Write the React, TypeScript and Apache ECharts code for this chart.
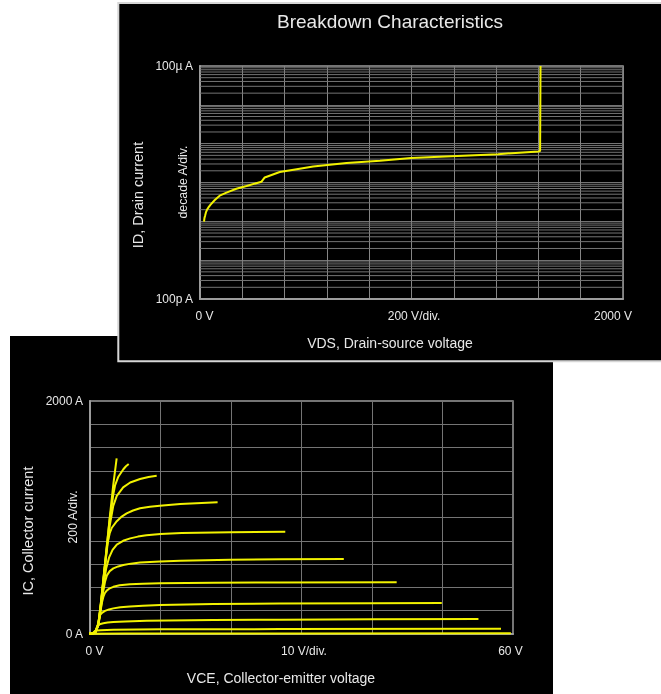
import React, { useEffect, useRef } from "react";
import * as echarts from "echarts";

const FONT = "'Liberation Sans', Arial, sans-serif";
const YELLOW = "#f2f200";
const TEXT = "#e8e8e8";

// ---- Breakdown characteristics (top panel) ----
const vdsVolts = [19, 21, 24, 28, 33, 41, 49, 70, 93, 125, 172, 220, 291, 306, 377, 457, 535, 693, 851, 998, 1245, 1409, 1600, 1608, 1610];
const idAmps = [9.9e-9, 1.21e-8, 1.39e-8, 1.69e-8, 1.98e-8, 2.32e-8, 2.66e-8, 3.55e-8, 4.57e-8, 5.5e-8, 6.9e-8, 8.1e-8, 1.05e-7, 1.35e-7, 1.86e-7, 2.19e-7, 2.57e-7, 3.16e-7, 3.63e-7, 4.27e-7, 4.9e-7, 5.37e-7, 6.31e-7, 6.46e-7, 1.0e-4];
const vdsTickLabels: Record<number, string> = { 0: "0 V", 1000: "200 V/div.", 2000: "2000 V" };
const idTickLabels: Record<number, string> = { [-10]: "100p A", [-4]: "100µ A" };
const idDecades = [-10, -9, -8, -7, -6, -5];
const idMinorSteps = [2, 3, 4, 5, 6, 7, 8, 9];

// ---- Output characteristics (bottom panel), [VCE (V), IC (A)] ----
const icCurve1 = [[-1, 0], [0.4, 2], [0.8, 20], [1.2, 90], [1.6, 300], [2.2, 650], [2.8, 1000], [3.3, 1280], [3.78, 1508]];
const icCurve2 = [[-1, 0], [0.4, 2], [0.8, 20], [1.2, 88], [1.6, 295], [2.2, 640], [2.8, 990], [3.07, 1093], [3.31, 1200], [3.55, 1275], [4.02, 1350], [4.73, 1414], [5.1, 1440], [5.49, 1459]];
const icCurve3 = [[-1, 0], [0.4, 2], [0.8, 20], [1.2, 86], [1.6, 285], [2.2, 620], [2.8, 930], [3.3, 1100], [3.8, 1185], [4.7, 1258], [5.7, 1300], [7.1, 1330], [8.3, 1348], [9.46, 1359]];
const icCurve4 = [[-1, 0], [0.4, 2], [0.8, 19], [1.2, 84], [1.6, 275], [2.0, 520], [2.46, 775], [2.8, 865], [3.1, 912], [3.8, 968], [4.5, 1008], [5.2, 1036], [6.1, 1060], [7.1, 1079], [8.5, 1092], [9.9, 1101], [12.8, 1116], [18.1, 1130]];
const icCurve5 = [[-1, 0], [0.4, 2], [0.8, 19], [1.2, 80], [1.6, 265], [2.0, 450], [2.3, 565], [2.7, 655], [3.2, 722], [3.8, 768], [4.7, 800], [5.7, 821], [6.8, 836], [8.0, 847], [10, 858], [13, 867], [20, 874], [27.7, 877]];
const icCurve6 = [[-1, 0], [0.4, 2], [0.8, 18], [1.2, 78], [1.6, 250], [1.9, 375], [2.13, 448], [2.4, 503], [2.8, 540], [3.31, 563], [4.0, 580], [4.73, 592], [5.8, 604], [7.09, 613], [9.93, 622], [12.8, 629], [19.9, 638], [27, 642], [36, 644]];
const icCurve7 = [[-1, 0], [0.4, 2], [0.8, 18], [1.2, 78], [1.5, 200], [1.7, 272], [1.89, 318], [2.1, 350], [2.37, 372], [2.8, 392], [3.31, 405], [4.2, 418], [5.67, 427], [7.5, 432], [9.93, 435], [17.5, 440], [26.9, 443], [43.5, 444]];
const icCurve8 = [[-1, 0], [0.4, 2], [0.8, 18], [1.1, 80], [1.3, 140], [1.42, 162], [1.7, 182], [2.13, 198], [2.7, 211], [3.31, 220], [4.3, 229], [5.67, 236], [7.5, 243], [9.93, 249], [17.5, 257], [26.9, 261], [40, 264], [49.9, 266]];
const icCurve9 = [[-1, 0], [0.4, 2], [0.8, 30], [1.0, 62], [1.18, 76], [1.5, 86], [1.89, 92], [2.5, 98], [3.31, 103], [5, 108], [8.04, 114], [17.5, 120], [26.9, 123], [40, 126], [55.1, 129]];
const icCurve10 = [[-1, 0], [0.4, 5], [0.6, 20], [0.71, 26], [1.0, 30], [1.5, 33], [3.31, 37], [10, 40], [26.9, 42], [58.3, 44]];
const icCurve11 = [[-1, 0], [0.5, 2], [5, 4], [30, 5], [59.7, 6]];
const icCurves = [icCurve1, icCurve2, icCurve3, icCurve4, icCurve5, icCurve6, icCurve7, icCurve8, icCurve9, icCurve10, icCurve11];
const vceTickLabels: Record<number, string> = { 0: "0 V", 30: "10 V/div.", 60: "60 V" };
const icTickLabels: Record<number, string> = { 0: "0 A", 2000: "2000 A" };

const rich = (padLeft: number, padRight: number) => ({
  color: TEXT,
  fontSize: 12,
  fontFamily: FONT,
  padding: [0, padRight, 0, padLeft],
});

function rotText(text: string, x: number, y: number, size: number) {
  return {
    type: "text",
    z: 20,
    x,
    y,
    rotation: Math.PI / 2,
    style: { text, fill: TEXT, font: `${size}px ${FONT}`, align: "center", verticalAlign: "middle" },
  };
}
function hText(text: string, x: number, y: number, size: number, z = 20) {
  return {
    type: "text",
    z,
    x,
    y,
    style: { text, fill: TEXT, font: `${size}px ${FONT}`, align: "center", verticalAlign: "middle" },
  };
}

export default function App() {
  const ref = useRef<HTMLDivElement>(null);
  useEffect(() => {
    if (!ref.current) return;
    const chart = echarts.init(ref.current, undefined, { renderer: "svg" });

    const gridLine = "#747474";
    const axisLine = { show: true, lineStyle: { color: "#9c9c9c", width: 2 } };

    // minor (2..9 per decade) horizontal grid lines of the log axis
    const minorGridSeries: any[] = [];
    idDecades.forEach((d) =>
      idMinorSteps.forEach((m) => {
        const v = m * Math.pow(10, d);
        minorGridSeries.push({
          type: "line",
          xAxisIndex: 0,
          yAxisIndex: 0,
          z: 1,
          silent: true,
          symbol: "none",
          data: [[0, v], [2000, v]],
          lineStyle: { color: gridLine, width: 1 },
        });
      })
    );

    const option: any = {
      animation: false,
      textStyle: { fontFamily: FONT },
      grid: [
        { left: 200, top: 66, width: 423, height: 233, show: true, borderColor: "#9c9c9c", borderWidth: 1.5, backgroundColor: "transparent" },
        { left: 90, top: 401, width: 423, height: 233, show: true, borderColor: "#9c9c9c", borderWidth: 1.5, backgroundColor: "transparent" },
      ],
      xAxis: [
        {
          gridIndex: 0,
          type: "value",
          min: 0,
          max: 2000,
          interval: 200,
          axisLine,
          axisTick: { show: false },
          splitLine: { show: true, lineStyle: { color: "#858585", width: 1 } },
          axisLabel: {
            margin: 11,
            formatter: (v: number) =>
              v === 0 ? `{l|${vdsTickLabels[0]}}` : v === 1000 ? `{m|${vdsTickLabels[1000]}}` : v === 2000 ? `{r|${vdsTickLabels[2000]}}` : "",
            rich: { l: rich(9, 0), m: rich(5, 0), r: rich(0, 20) },
          },
        },
        {
          gridIndex: 1,
          type: "value",
          min: 0,
          max: 60,
          interval: 10,
          axisLine,
          axisTick: { show: false },
          splitLine: { show: true, lineStyle: { color: gridLine, width: 1 } },
          axisLabel: {
            margin: 11,
            formatter: (v: number) =>
              v === 0 ? `{l|${vceTickLabels[0]}}` : v === 30 ? `{m|${vceTickLabels[30]}}` : v === 60 ? `{r|${vceTickLabels[60]}}` : "",
            rich: { l: rich(9, 0), m: rich(5, 0), r: rich(0, 5) },
          },
        },
      ],
      yAxis: [
        {
          gridIndex: 0,
          type: "log",
          logBase: 10,
          min: 1e-10,
          max: 1e-4,
          splitNumber: 6,
          axisLine,
          axisTick: { show: false },
          splitLine: { show: true, lineStyle: { color: gridLine, width: 1 } },
          axisLabel: {
            color: TEXT,
            fontSize: 12,
            fontFamily: FONT,
            margin: 7,
            formatter: (v: number) => idTickLabels[Math.round(Math.log10(v))] || "",
          },
        },
        {
          gridIndex: 1,
          type: "value",
          min: 0,
          max: 2000,
          interval: 200,
          axisLine,
          axisTick: { show: false },
          splitLine: { show: true, lineStyle: { color: gridLine, width: 1 } },
          axisLabel: {
            color: TEXT,
            fontSize: 12,
            fontFamily: FONT,
            margin: 7,
            formatter: (v: number) => icTickLabels[v] || "",
          },
        },
      ],
      series: [
        ...minorGridSeries,
        {
          type: "line",
          xAxisIndex: 0,
          yAxisIndex: 0,
          z: 5,
          data: vdsVolts.map((v, i) => [v, idAmps[i]]),
          symbol: "none",
          lineStyle: { color: YELLOW, width: 2 },
        },
        ...icCurves.map((c) => ({
          type: "line",
          xAxisIndex: 1,
          yAxisIndex: 1,
          z: 5,
          data: c,
          symbol: "none",
          clip: false,
          lineStyle: { color: YELLOW, width: 2 },
        })),
      ],
      graphic: [
        { type: "rect", z: -30, shape: { x: 10, y: 336, width: 543, height: 358 }, style: { fill: "#000" } },
        { type: "rect", z: -28, shape: { x: 118.3, y: 3, width: 600, height: 358.2 }, style: { fill: "#000", stroke: "#d6d6d6", lineWidth: 2 } },
        hText("Breakdown Characteristics", 390, 21, 19),
        rotText("ID, Drain current", 138, 195, 14.5),
        rotText("decade A/div.", 183, 182, 12.3),
        hText("VDS, Drain-source voltage", 390, 343, 14),
        rotText("IC, Collector current", 28, 531, 14.5),
        rotText("200 A/div.", 73, 517, 12.3),
        hText("VCE, Collector-emitter voltage", 281, 678, 14),
      ],
    };
    chart.setOption(option);
    return () => chart.dispose();
  }, []);
  return <div ref={ref} style={{ position: "fixed", left: 0, top: 0, width: 661, height: 694 }} />;
}
